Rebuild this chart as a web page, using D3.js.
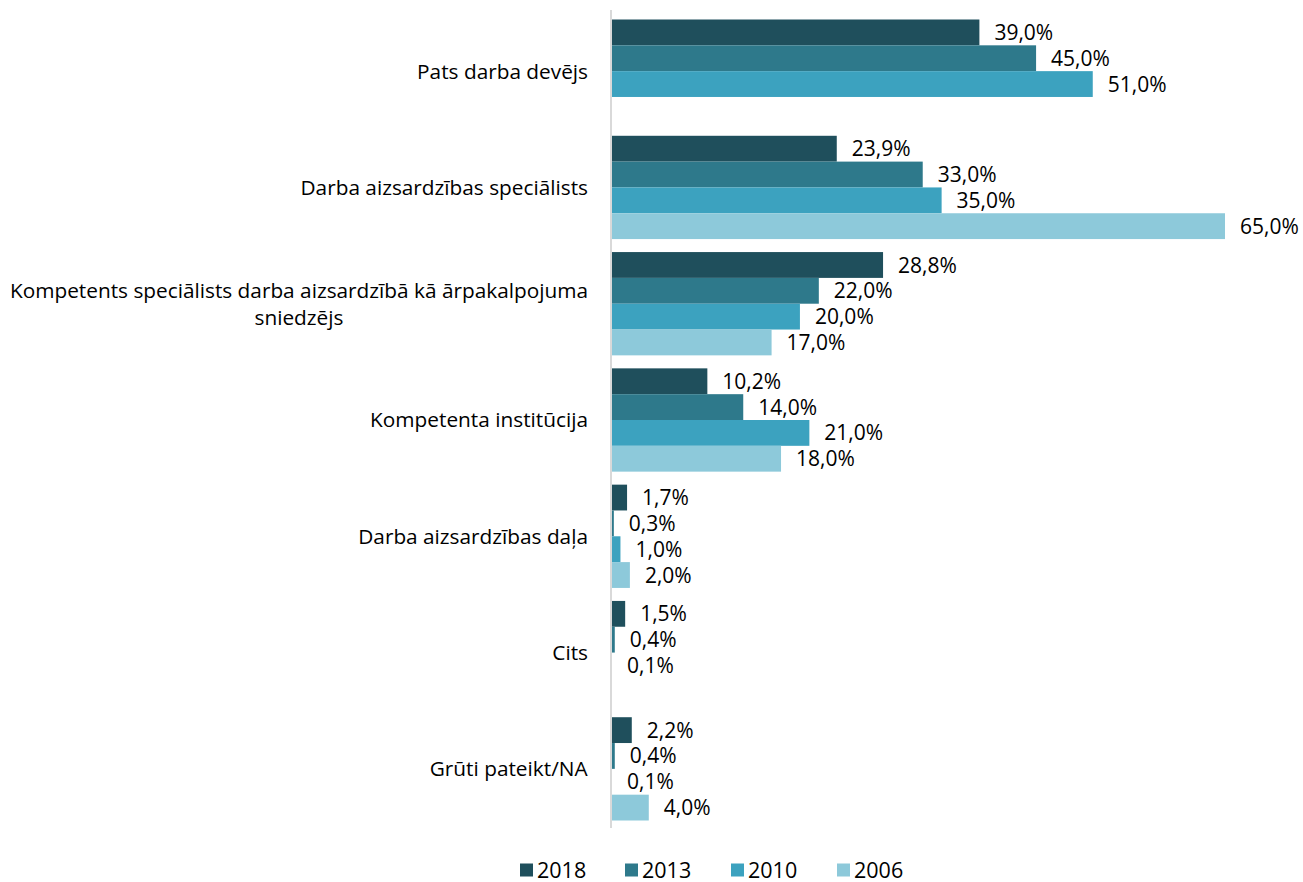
<!DOCTYPE html>
<html>
<head>
<meta charset="utf-8">
<script src="https://cdn.jsdelivr.net/npm/d3@7"></script>
<style>
  body { margin: 0; background: #fff; }
  text { font-family: "Open Sans", Lato, sans-serif; fill: #000; }
</style>
</head>
<body>
<div id="chart"></div>
<script>
// data
const categories = [
  ["Pats darba devējs"],
  ["Darba aizsardzības speciālists"],
  ["Kompetents speciālists darba aizsardzībā kā ārpakalpojuma", "sniedzējs"],
  ["Kompetenta institūcija"],
  ["Darba aizsardzības daļa"],
  ["Cits"],
  ["Grūti pateikt/NA"]
];
const years = ["2018", "2013", "2010", "2006"];
const values2018 = [39.0, 23.9, 28.8, 10.2, 1.7, 1.5, 2.2];
const values2013 = [45.0, 33.0, 22.0, 14.0, 0.3, 0.4, 0.4];
const values2010 = [51.0, 35.0, 20.0, 21.0, 1.0, 0.1, 0.1];
const values2006 = [null, 65.0, 17.0, 18.0, 2.0, null, 4.0];
const colors = ["#1f4f5c", "#2e798b", "#3ca2bf", "#8dc9da"];

const seriesVals = [values2018, values2013, values2010, values2006];
const catNames = categories.map(c => c.join(" "));

const W = 1303, H = 882;
const svg = d3.select("#chart").append("svg")
  .attr("width", W).attr("height", H);

const x = d3.scaleLinear().domain([0, 65]).range([611, 1225]);
const y = d3.scaleBand().domain(catNames).range([13, 827]);
const gap = 13;
const yInner = d3.scaleBand().domain(years)
  .range([gap / 2, y.bandwidth() - gap / 2]);
const color = d3.scaleOrdinal().domain(years).range(colors);

const fmt = v => v.toFixed(1).replace(".", ",") + "%";

// bars
const groups = svg.append("g").selectAll("g")
  .data(catNames)
  .join("g")
    .attr("transform", d => `translate(0,${y(d)})`);

groups.each(function(cat, ci) {
  const rows = years.map((yr, si) => ({ yr, v: seriesVals[si][ci] }))
    .filter(d => d.v != null);
  const g = d3.select(this);
  g.selectAll("rect").data(rows).join("rect")
    .attr("x", x(0))
    .attr("y", d => yInner(d.yr))
    .attr("width", d => x(d.v) - x(0))
    .attr("height", yInner.bandwidth())
    .attr("fill", d => color(d.yr));
  g.selectAll("text.val").data(rows).join("text")
    .attr("class", "val")
    .attr("x", d => x(d.v) + 15)
    .attr("y", d => yInner(d.yr) + yInner.bandwidth() / 2)
    .attr("dy", "0.36em")
    .attr("font-size", 21)
    .text(d => fmt(d.v));
});

// axis line
svg.append("line")
  .attr("x1", x(0)).attr("x2", x(0))
  .attr("y1", 10).attr("y2", 828)
  .attr("stroke", "#d9d9d9").attr("stroke-width", 2);

// category labels (right aligned block, lines centered within it)
const labelRight = 588;
categories.forEach((lines, i) => {
  const cy = y(catNames[i]) + y.bandwidth() / 2;
  const t = svg.append("text")
    .attr("font-size", 20.8)
    .attr("text-anchor", "middle");
  const lh = 27;
  lines.forEach((ln, j) => {
    t.append("tspan").attr("x", 0)
      .attr("y", cy + (j - (lines.length - 1) / 2) * lh)
      .attr("dy", "0.36em")
      .text(ln);
  });
  const w = t.node().getBBox().width;
  t.selectAll("tspan").attr("x", labelRight - w / 2);
});

// legend
const legendX = [520, 625, 731, 837];
const legend = svg.append("g").selectAll("g")
  .data(years).join("g")
    .attr("transform", (d, i) => `translate(${legendX[i]},870)`);
legend.append("rect")
  .attr("x", 0).attr("y", -6.5).attr("width", 13).attr("height", 13)
  .attr("fill", d => color(d));
legend.append("text")
  .attr("x", 17).attr("y", 7.5)
  .attr("font-size", 21.5)
  .text(d => d);
</script>
</body>
</html>
